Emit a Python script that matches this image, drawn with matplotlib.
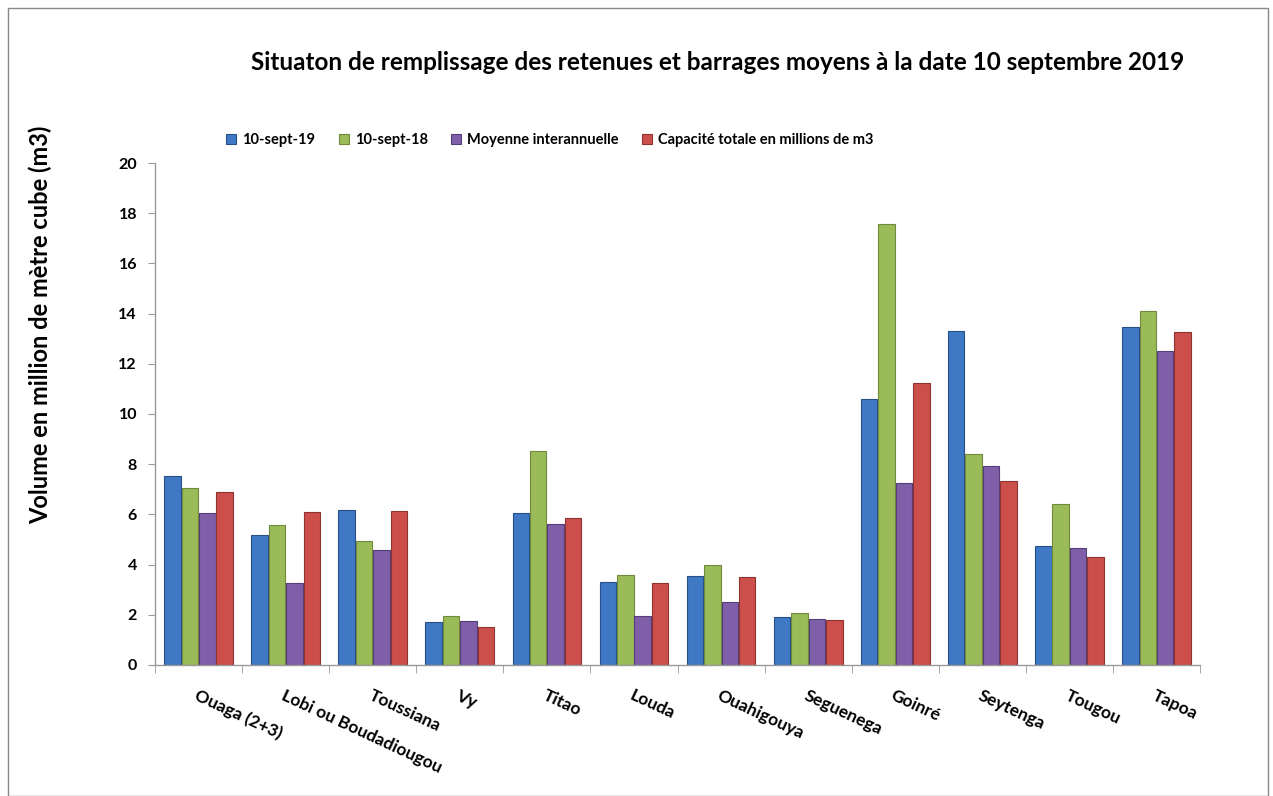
import numpy as np
import matplotlib
matplotlib.use("Agg")
import matplotlib.pyplot as plt
from matplotlib.patches import Rectangle

plt.rcParams["font.family"] = ["Lato", "Open Sans", "DejaVu Sans"]

SITES = [
    "Ouaga (2+3)", "Lobi ou Boudadiougou", "Toussiana", "Vy", "Titao", "Louda",
    "Ouahigouya", "Seguenega", "Goinré", "Seytenga", "Tougou", "Tapoa",
]

SEPT_19 = [7.53, 5.16, 6.19, 1.71, 6.04, 3.30, 3.56, 1.92, 10.60, 13.32, 4.75, 13.48]
SEPT_18 = [7.05, 5.57, 4.92, 1.94, 8.53, 3.59, 3.97, 2.08, 17.58, 8.41, 6.42, 14.12]
MOYENNE = [6.04, 3.25, 4.57, 1.75, 5.60, 1.94, 2.52, 1.84, 7.24, 7.94, 4.67, 12.51]
CAPACITE = [6.89, 6.11, 6.15, 1.51, 5.84, 3.25, 3.50, 1.80, 11.24, 7.32, 4.29, 13.27]

SERIES = [
    ("10-sept-19", SEPT_19, "#3f78c4", "#27508a"),
    ("10-sept-18", SEPT_18, "#9bbb59", "#6f8a3a"),
    ("Moyenne interannuelle", MOYENNE, "#7f5fa8", "#553d78"),
    ("Capacité totale en millions de m3", CAPACITE, "#cc4f4c", "#8f3331"),
]


def main():
    fig = plt.figure(figsize=(12.73, 7.96), dpi=100)
    ax = fig.add_axes([0.1218, 0.1646, 0.8209, 0.6306])

    x = np.arange(len(SITES))
    width = 0.2
    for i, (label, values, color, edge) in enumerate(SERIES):
        ax.bar(
            x + (i - 1.5) * width,
            values,
            width=width * 0.95,
            color=color,
            edgecolor=edge,
            linewidth=0.8,
            label=label,
        )

    ax.set_xlim(-0.5, len(SITES) - 0.5)
    ax.set_ylim(0, 20)
    ax.set_yticks(np.arange(0, 21, 2))
    ax.tick_params(axis="y", labelsize=11.5, length=5, color="#999999", pad=8)
    for t in ax.get_yticklabels():
        t.set_fontweight("bold")

    # ticks on the category boundaries, labels under the group centres
    ax.set_xticks(np.arange(-0.5, len(SITES), 1.0), minor=True)
    ax.set_xticks(x)
    ax.tick_params(axis="x", which="minor", length=6, color="#999999")
    ax.tick_params(axis="x", which="major", length=0, pad=16)
    ax.set_xticklabels(SITES, rotation=-25, ha="left", va="top",
                       rotation_mode="anchor", fontsize=12.5, fontweight="bold")

    for side in ["top", "right"]:
        ax.spines[side].set_visible(False)
    for side in ["left", "bottom"]:
        ax.spines[side].set_color("#999999")
        ax.spines[side].set_linewidth(1.0)

    fig.text(0.032, 0.592, "Volume en million de mètre cube (m3)", rotation=90,
             ha="center", va="center", fontsize=17, fontweight="bold")

    fig.text(0.564, 0.922,
             "Situaton de remplissage des retenues et barrages moyens à la date 10 septembre 2019",
             ha="center", va="center", fontsize=17.5, fontweight="bold")

    fig.legend(loc="center", bbox_to_anchor=(0.432, 0.824), ncol=4, frameon=False,
               handlelength=0.7, handleheight=0.7, handletextpad=0.4,
               columnspacing=1.6, prop={"size": 10.5, "weight": "bold"})

    fig.patches.append(Rectangle((0.006, 0.0), 0.99, 0.99, transform=fig.transFigure,
                                 fill=False, edgecolor="#888888", linewidth=1.0))

    fig.savefig("out.png", dpi=100)
    plt.close(fig)


if __name__ == "__main__":
    main()
